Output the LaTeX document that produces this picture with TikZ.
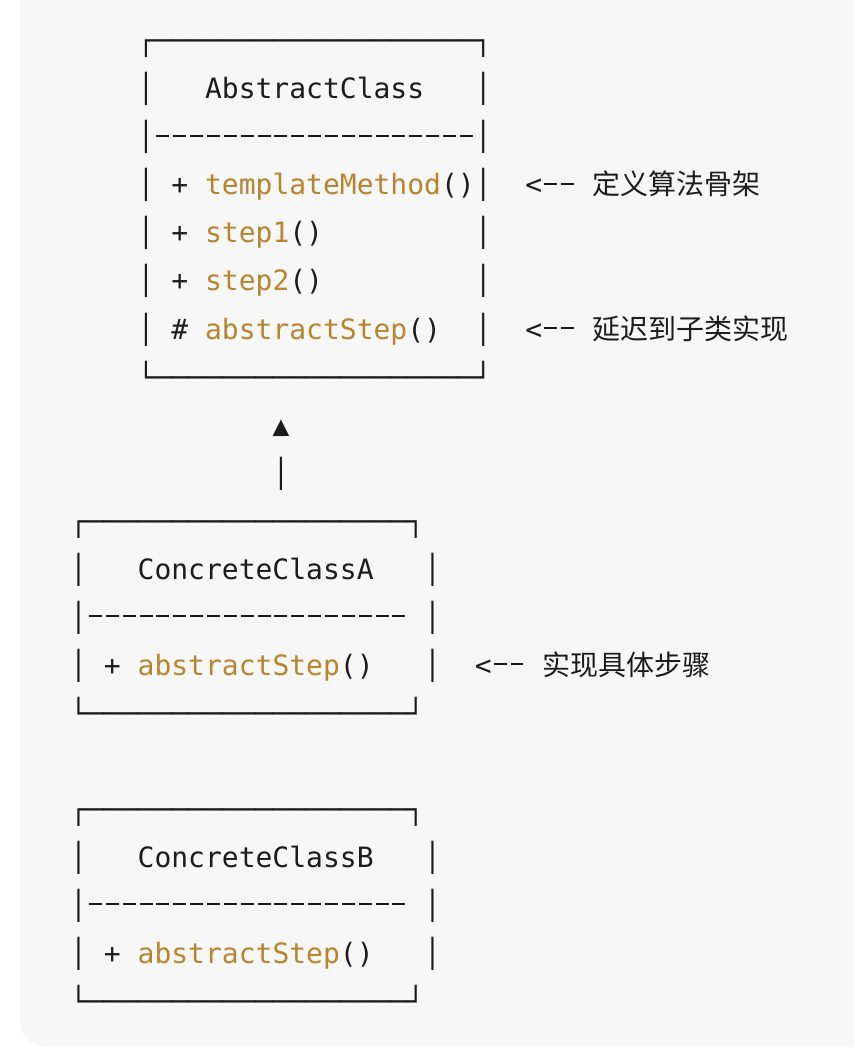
\documentclass[tikz,border=0pt]{standalone}
\usepackage{fontspec}
\setmonofont{DejaVu Sans Mono}
\newfontfamily\cjk{Noto Sans CJK SC}
\definecolor{panel}{HTML}{F7F7F7}
\definecolor{fn}{HTML}{B8842E}
\definecolor{ink}{HTML}{1C1C1C}
\newcommand\hl[1]{\textcolor{fn}{#1}}
\newcommand\dsh{\makebox[0.602em]{\rule[0.34em]{0.46em}{0.075em}}}
\newcommand\dashrun{\dsh\dsh\dsh\dsh\dsh\dsh\dsh\dsh\dsh\dsh\dsh\dsh\dsh\dsh\dsh\dsh\dsh\dsh\dsh}
\newcommand\larr{<\dsh\dsh}
\newcommand\rowat[4]{\node[codeline] (#1) at ({2.8+#2*16.856},{51+48*#3}) {#4};}
\tikzset{codeline/.style={anchor=base west, inner sep=0pt, outer sep=0pt,
  font=\ttfamily\fontsize{21}{25}\selectfont, text=ink}}
\begin{document}
\begin{tikzpicture}[x=0.75pt,y=-0.75pt]
\useasboundingbox (0,0) rectangle (854,1048);
\fill[white] (0,0) rectangle (854,1048);
\begin{scope}
\clip (0,0) rectangle (854,1048);
\fill[panel, rounded corners=20] (20,-40) rectangle (900,1047);
\end{scope}
% AbstractClass
\rowat{abs0}{8}{0}{┌───────────────────┐}
\rowat{abs1}{8}{1}{│~~~AbstractClass~~~│}
\rowat{abs2}{8}{2}{│\dashrun│}
\rowat{abs3}{8}{3}{│~+~\hl{templateMethod}()│~~\larr~{\cjk 定义算法骨架}}
\rowat{abs4}{8}{4}{│~+~\hl{step1}()~~~~~~~~~│}
\rowat{abs5}{8}{5}{│~+~\hl{step2}()~~~~~~~~~│}
\rowat{abs6}{8}{6}{│~\#~\hl{abstractStep}()~~│~~\larr~{\cjk 延迟到子类实现}}
\rowat{abs7}{8}{7}{└───────────────────┘}
% inheritance arrow
\rowat{arrhead}{16}{8}{▲}
\rowat{arrline}{16}{9}{│}
% ConcreteClassA
\rowat{ca0}{4}{10}{┌───────────────────┐}
\rowat{ca1}{4}{11}{│~~~ConcreteClassA~~~│}
\rowat{ca2}{4}{12}{│\dashrun~│}
\rowat{ca3}{4}{13}{│~+~\hl{abstractStep}()~~~│~~\larr~{\cjk 实现具体步骤}}
\rowat{ca4}{4}{14}{└───────────────────┘}
% ConcreteClassB
\rowat{cb0}{4}{16}{┌───────────────────┐}
\rowat{cb1}{4}{17}{│~~~ConcreteClassB~~~│}
\rowat{cb2}{4}{18}{│\dashrun~│}
\rowat{cb3}{4}{19}{│~+~\hl{abstractStep}()~~~│}
\rowat{cb4}{4}{20}{└───────────────────┘}
\end{tikzpicture}
\end{document}
